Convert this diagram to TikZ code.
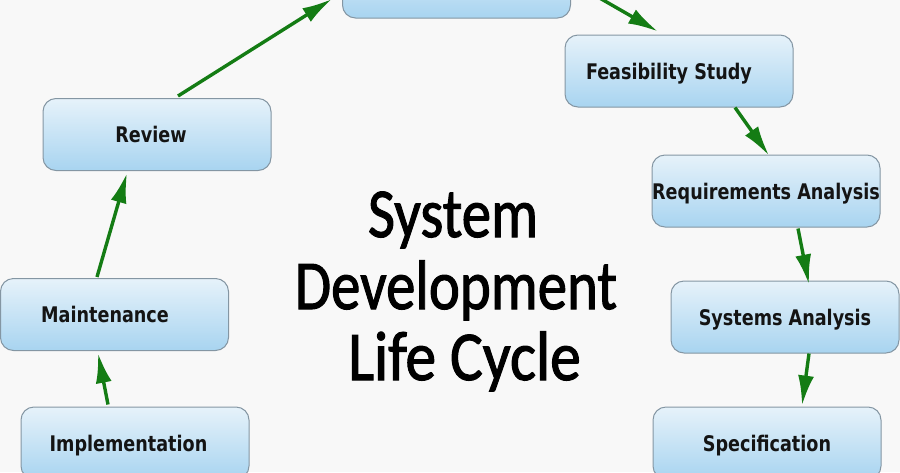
\documentclass[tikz,border=0pt]{standalone}
\usepackage{fontspec}
\usepackage{graphicx}
\usetikzlibrary{arrows.meta}
\newfontfamily\boxfont[FakeStretch=0.91]{DejaVu Sans Condensed}
\newfontfamily\titlefont[FakeBold=1.6]{Carlito}
\definecolor{bgc}{HTML}{F8F8F8}
\definecolor{boxtop}{HTML}{E6F2FA}
\definecolor{boxbot}{HTML}{A8D4F0}
\definecolor{boxline}{HTML}{8496A3}
\definecolor{arrowgreen}{HTML}{147C14}
\tikzset{
  stagebox/.style={draw=boxline, line width=1pt, rounded corners=13pt,
    top color=boxtop, bottom color=boxbot,
    minimum width=228pt, minimum height=72pt, inner sep=0pt,
    text height=16pt, text depth=0pt,
    font=\boxfont\bfseries\fontsize{21.5}{26}\selectfont, text=black!92},
  flow/.style={draw=arrowgreen, line width=3.4pt,
    -{Latex[length=30pt,width=16pt]}},
  titletext/.style={font=\titlefont\fontsize{70}{84}\selectfont, anchor=base, inner sep=0pt}
}
\begin{document}
\begin{tikzpicture}[x=1pt,y=-1pt]
\useasboundingbox (0,0) rectangle (900,472);
\clip (0,0) rectangle (900,472);
\fill[bgc] (0,0) rectangle (900,472);

\node[stagebox] (plan) at (456.5,-18) {};
\node[stagebox] (feas) at (679,71) {\kern-20pt Feasibility Study};
\node[stagebox] (review) at (157,134.5) {\kern-12pt Review};
\node[stagebox] (maint) at (114.5,314.5) {\kern-19pt Maintenance};
\node[stagebox] (impl) at (135,443) {\kern-13pt Implementation};
\node[stagebox] (req) at (766,191) {Requirements Analysis};
\node[stagebox] (sys) at (785,317) {Systems Analysis};
\node[stagebox] (spec) at (767,443) {Specification};

\node[titletext] (t1) at (453,237) {\scalebox{0.84}[1]{System}};
\node[titletext] (t2) at (456,309) {\scalebox{0.84}[1]{Development}};
\node[titletext] (t3) at (464.5,380) {\scalebox{0.88}[1]{Life Cycle}};

\draw[flow] ([xshift=21pt,yshift=2pt]review.north) -- ([xshift=-10pt,yshift=-17pt]plan.west);
\draw[flow] ([xshift=26pt,yshift=22pt]plan.south east) -- ([xshift=-21pt,yshift=3pt]feas.north);
\draw[flow] ([xshift=56pt]feas.south) -- ([xshift=3pt,yshift=-1pt]req.north);
\draw[flow] ([xshift=32pt,yshift=-1pt]req.south) -- ([xshift=24pt,yshift=-4pt]sys.north);
\draw[flow] ([xshift=24pt]sys.south) -- ([xshift=35pt,yshift=1pt]spec.north);
\draw[flow] ([xshift=-17.5pt,yshift=1pt]maint.north) -- ([xshift=-30pt,yshift=-2pt]review.south);
\draw[flow] ([xshift=-27pt,yshift=2pt]impl.north) -- ([xshift=-16.5pt,yshift=-2pt]maint.south);
\end{tikzpicture}
\end{document}
